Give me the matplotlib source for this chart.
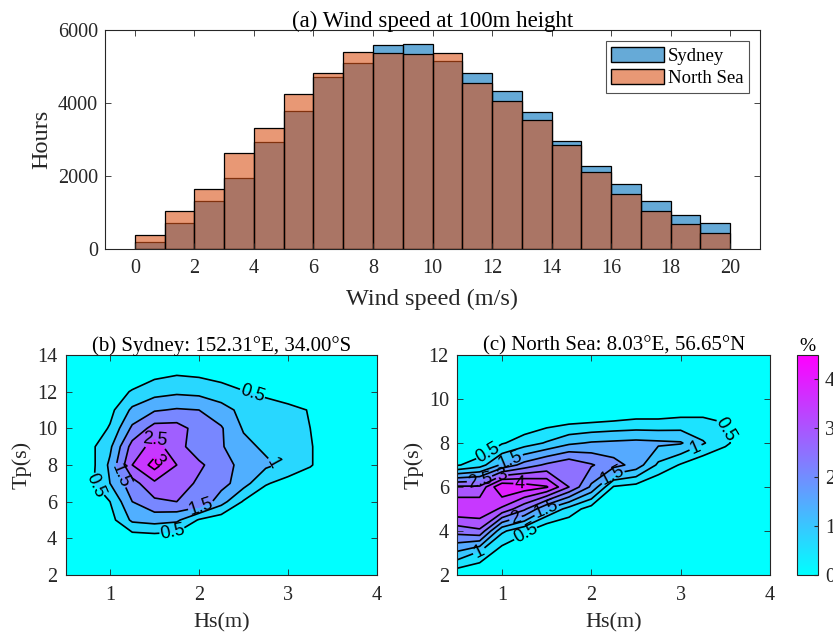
import matplotlib
matplotlib.use("Agg")
import matplotlib.pyplot as plt
import numpy as np
from matplotlib.patches import Patch
from matplotlib.colors import Normalize, to_rgba
from matplotlib.cm import ScalarMappable

plt.rcParams['font.family'] = ['Liberation Serif', 'DejaVu Serif']

# ---- (a) wind speed histogram, hours per 1 m/s bin ----
bin_edges = np.arange(0, 21, 1)
sydney_hours = [183, 703, 1315, 1936, 2922, 3781, 4703, 5087, 5580, 5625,
                5150, 4830, 4319, 3744, 2950, 2274, 1772, 1306, 931, 703]
northsea_hours = [374, 1032, 1653, 2639, 3324, 4237, 4813, 5388, 5360, 5342,
                  5360, 4538, 4054, 3525, 2840, 2109, 1498, 1041, 676, 447]

# ---- (b),(c) joint Hs-Tp occurrence (%) ----
hs_grid = [0.5, 0.75, 1.0, 1.25, 1.5, 1.75, 2.0, 2.25, 2.5, 2.75, 3.0, 3.25, 3.5, 3.75, 4.0]
tp_sydney = [2, 3, 4, 5, 6, 7, 8, 9, 10, 11, 12, 13, 14]
occ_sydney = [
    [0, 0, 0, 0, 0, 0, 0, 0, 0, 0, 0, 0, 0, 0, 0],
    [0, 0, 0, 0, 0, 0, 0, 0, 0, 0, 0, 0, 0, 0, 0],
    [0, 0, 0, 0.2, 0.25, 0.2, 0.1, 0, 0, 0, 0, 0, 0, 0, 0],
    [0, 0, 0.3, 1.1, 1.2, 1.1, 0.45, 0.2, 0, 0, 0, 0, 0, 0, 0],
    [0, 0.1, 0.5, 1.5, 1.9, 2.0, 1.95, 1.2, 0.45, 0.1, 0, 0, 0, 0, 0],
    [0, 0.3, 1.0, 1.8, 2.4, 2.3, 1.9, 1.7, 1.2, 0.55, 0.3, 0.1, 0, 0, 0],
    [0, 0.2, 1.1, 2.5, 3.2, 2.5, 2.1, 1.7, 1.35, 1.1, 0.85, 0.55, 0.1, 0, 0],
    [0, 0.3, 0.9, 2.2, 2.7, 2.2, 1.7, 1.55, 1.15, 0.9, 0.8, 0.55, 0.1, 0, 0],
    [0, 0.1, 0.55, 1.6, 2.2, 2.2, 1.8, 1.55, 0.95, 0.8, 0.7, 0.5, 0.1, 0, 0],
    [0, 0, 0.35, 1.1, 1.45, 1.55, 1.5, 1.2, 0.85, 0.7, 0.6, 0.48, 0.05, 0, 0],
    [0, 0, 0.2, 0.55, 0.8, 0.9, 0.85, 0.7, 0.52, 0.4, 0.3, 0.2, 0, 0, 0],
    [0, 0, 0, 0.1, 0.35, 0.45, 0.4, 0.3, 0.2, 0.1, 0, 0, 0, 0, 0],
    [0, 0, 0, 0, 0, 0, 0, 0, 0, 0, 0, 0, 0, 0, 0],
]
tp_northsea = [2, 3, 4, 5, 6, 7, 8, 9, 10, 11, 12]
occ_northsea = [
    [0.1, 0, 0, 0, 0, 0, 0, 0, 0, 0, 0, 0, 0, 0, 0],
    [1.4, 0.9, 0.2, 0, 0, 0, 0, 0, 0, 0, 0, 0, 0, 0, 0],
    [2.7, 2.9, 1.1, 0.6, 0, 0, 0, 0, 0, 0, 0, 0, 0, 0, 0],
    [3.95, 3.95, 3.4, 2.6, 1.5, 0.8, 0.25, 0, 0, 0, 0, 0, 0, 0, 0],
    [3.1, 3.1, 4.5, 4.3, 4.05, 3.0, 1.9, 0.45, 0.3, 0, 0, 0, 0, 0, 0],
    [0.45, 0.77, 1.6, 2.2, 2.6, 2.9, 2.55, 2.2, 1.8, 0.9, 0.45, 0.1, 0, 0, 0],
    [0, 0, 0.45, 0.75, 1.05, 1.4, 1.55, 1.6, 1.65, 1.6, 1.55, 1.05, 0.6, 0.15, 0],
    [0, 0, 0, 0.1, 0.25, 0.35, 0.42, 0.5, 0.55, 0.55, 0.6, 0.6, 0.45, 0, 0],
    [0, 0, 0, 0, 0, 0, 0, 0, 0, 0, 0, 0, 0, 0, 0],
    [0, 0, 0, 0, 0, 0, 0, 0, 0, 0, 0, 0, 0, 0, 0],
    [0, 0, 0, 0, 0, 0, 0, 0, 0, 0, 0, 0, 0, 0, 0],
]
levels = np.arange(0, 5.0, 0.5)

blue = (0, 0.447, 0.741)
orange = (0.85, 0.325, 0.098)
axcol = '#262626'

fig = plt.figure(figsize=(8.33, 6.37), dpi=100)


def style_axes(ax, xpad=7, ypad=5):
    ax.tick_params(direction='in', top=True, right=True, length=4,
                   labelsize=14.5, colors=axcol, width=0.6)
    ax.tick_params(axis='x', pad=xpad)
    ax.tick_params(axis='y', pad=ypad)
    for s in ax.spines.values():
        s.set_color(axcol)
        s.set_linewidth(0.8)


# (a)
ax1 = fig.add_axes([105/833, 1-249/637, 655/833, 219/637])
ax1.bar(bin_edges[:-1], sydney_hours, width=1, align='edge',
        facecolor=to_rgba(blue, 0.6), edgecolor='k', linewidth=0.9)
ax1.bar(bin_edges[:-1], northsea_hours, width=1, align='edge',
        facecolor=to_rgba(orange, 0.6), edgecolor='k', linewidth=0.9)
ax1.set_xlim(-1, 21)
ax1.set_ylim(0, 6000)
ax1.set_xticks(np.arange(0, 21, 2))
ax1.set_yticks([0, 2000, 4000, 6000])
ax1.set_xlabel('Wind speed (m/s)', fontsize=17.5, color=axcol, labelpad=8)
ax1.set_ylabel('Hours', fontsize=17.5, color=axcol, labelpad=4)
ax1.set_title('(a) Wind speed at 100m height', fontsize=16.5, pad=2)
style_axes(ax1)
leg = ax1.legend(handles=[Patch(facecolor=to_rgba(blue, 0.6), edgecolor='k', label='Sydney'),
                          Patch(facecolor=to_rgba(orange, 0.6), edgecolor='k', label='North Sea')],
                 loc='upper right', fontsize=13.5, fancybox=False, edgecolor=axcol,
                 handlelength=2.8, handleheight=0.9, borderaxespad=0.6,
                 handletextpad=0.2, borderpad=0.3, labelspacing=0.2)
leg.get_frame().set_linewidth(0.8)


def contour_panel(rect, tp, occ, ylim, title, label_pos):
    ax = fig.add_axes(rect)
    z = np.array(occ)
    cmax = z.max()
    band_colors = [plt.cm.cool(min(l/cmax, 1.0)) for l in levels[:-1]]
    ax.contourf(hs_grid, tp, z, levels=levels, colors=band_colors)
    cs = ax.contour(hs_grid, tp, z, levels=levels[1:], colors='k', linewidths=1.2)
    ax.clabel(cs, fmt='%g', fontsize=13, inline=True, manual=label_pos,
              inline_spacing=2)
    for t in cs.labelTexts:
        t.set_family(['Liberation Sans', 'DejaVu Sans'])
    ax.set_xlim(0.5, 4)
    ax.set_ylim(*ylim)
    ax.set_xticks([1, 2, 3, 4])
    ax.set_yticks(np.arange(ylim[0], ylim[1]+1, 2))
    ax.set_xlabel('Hs(m)', fontsize=16, color=axcol, labelpad=6)
    ax.set_ylabel('Tp(s)', fontsize=16, color=axcol, labelpad=4)
    ax.set_title(title, fontsize=15, pad=3)
    style_axes(ax, xpad=8, ypad=6)
    return ax, cmax


contour_panel([65.5/833, 62/637, 311.5/833, 220/637], tp_sydney, occ_sydney, (2, 14),
              '(b) Sydney: 152.31°E, 34.00°S',
              [(2.6, 11.9), (0.84, 6.9), (1.7, 4.5), (2.85, 8.2), (1.15, 7.5),
               (1.5, 9.3), (2.0, 6.0), (1.5, 8.05)])
_, ns_max = contour_panel([457.3/833, 62/637, 312.7/833, 220/637], tp_northsea, occ_northsea, (2, 12),
                          '(c) North Sea: 8.03°E, 56.65°N',
                          [(0.85, 7.5), (3.5, 8.6), (1.25, 3.95), (1.1, 7.2), (2.25, 6.45),
                           (0.75, 6.3), (1.15, 4.6), (1.0, 6.5), (1.2, 6.15), (1.5, 4.95),
                           (0.75, 3.0), (3.15, 7.95)])

cax = fig.add_axes([797/833, 62/637, 21/833, 220/637])
cb = fig.colorbar(ScalarMappable(norm=Normalize(0, ns_max), cmap='cool'), cax=cax,
                  ticks=[0, 1, 2, 3, 4])
cax.tick_params(direction='in', labelsize=14.5, length=3, colors=axcol, pad=5)
cb.outline.set_edgecolor(axcol)
cax.set_title('%', fontsize=14, pad=3)

fig.savefig('out.png', dpi=100)
